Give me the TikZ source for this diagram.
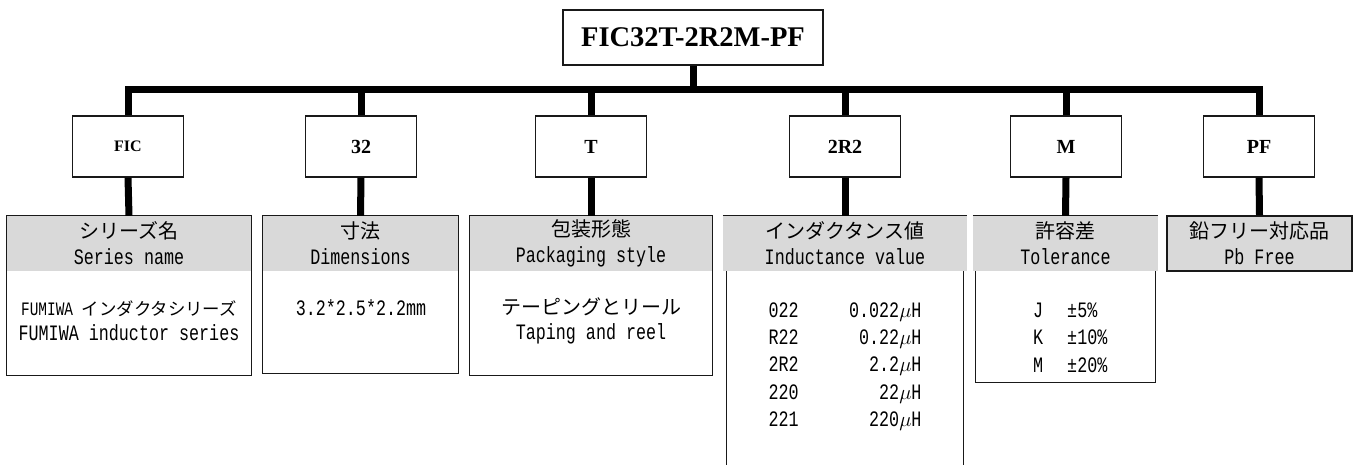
\documentclass[tikz,border=0pt]{standalone}
\usepackage{fontspec}
\setmainfont{Liberation Serif}
\newfontfamily\jpfont{Noto Sans CJK JP}
\newfontfamily\gothfont[FakeStretch=0.76]{Liberation Mono}
\usetikzlibrary{calc}
\definecolor{HeadClr}{RGB}{217,217,217}
\definecolor{LineClr}{RGB}{25,25,25}
\newcommand{\jp}[1]{{\jpfont #1}}
\newcommand{\uH}{$\mu$H}

\tikzset{
  codebox/.style={draw=LineClr,line width=1.3pt,fill=white,minimum width=111pt,
    minimum height=61pt,inner sep=0pt,font=\bfseries\fontsize{20}{24}\selectfont},
  headbox/.style={fill=HeadClr,minimum height=55pt,inner sep=0pt,align=center,
    font=\gothfont\fontsize{22}{26}\selectfont},
  bodybox/.style={minimum width=#1,inner sep=0pt,anchor=north},
  textline/.style={inner sep=0pt,align=center,font=\gothfont\fontsize{22}{25}\selectfont},
  busline/.style={line width=7pt,line join=miter},
  edge/.style={draw=LineClr,line width=1.3pt}
}

\begin{document}
\begin{tikzpicture}[x=1pt,y=-1pt]
\useasboundingbox (0,0) rectangle (1358,465);

% part number and its codes
\node[draw=LineClr,line width=1.3pt,minimum width=260pt,minimum height=55pt,inner sep=0pt,
  font=\bfseries\fontsize{28.5}{34}\selectfont] (pn) at (693,37.5) {FIC32T-2R2M-PF};
\coordinate (busmid) at (693,90);

\node[codebox,font=\bfseries\fontsize{16}{18}\selectfont] (fic) at (128,146.5) {FIC};
\node[codebox] (size) at (361,146.5) {32};
\node[codebox] (pack) at (591,146.5) {T};
\node[codebox] (ind)  at (845,146.5) {2R2};
\node[codebox] (tol)  at (1066,146.5) {M};
\node[codebox] (pbf)  at (1259,146.5) {PF};

% headers
\node[headbox,minimum width=244pt] (fich) at (129,243.5) {\jp{\fontsize{20}{26}\selectfont シリーズ名}\\Series name};
\node[headbox,minimum width=195pt] (sizeh) at (360.5,243.5) {\jp{\fontsize{20}{26}\selectfont 寸法}\\Dimensions};
\node[headbox,minimum width=242pt] (packh) at (591,243.5) {\jp{\fontsize{20}{26}\selectfont 包装形態}\\Packaging style};
\node[headbox,minimum width=244pt] (indh) at (845,243.5) {\jp{\fontsize{20}{26}\selectfont インダクタンス値}\\Inductance value};
\node[headbox,minimum width=185pt] (tolh) at (1065.5,243.5) {\jp{\fontsize{20}{26}\selectfont 許容差}\\Tolerance};
\node[headbox,draw=LineClr,line width=1.3pt,minimum width=185pt] (pbfh) at (1259.5,243.5) {\jp{\fontsize{20}{26}\selectfont 鉛フリー対応品}\\Pb Free};

% bodies
\node[bodybox=244pt,minimum height=104pt] (ficb) at (fich.south) {};
\node[bodybox=195pt,minimum height=102pt] (sizeb) at (sizeh.south) {};
\node[bodybox=242pt,minimum height=104pt] (packb) at (packh.south) {};
\node[bodybox=236pt,minimum height=194pt] (indb) at (indh.south) {};
\node[bodybox=179pt,minimum height=111pt] (tolb) at (tolh.south) {};

\draw[edge] (fich.north west) rectangle (ficb.south east);
\draw[edge] (sizeh.north west) rectangle (sizeb.south east);
\draw[edge] (packh.north west) rectangle (packb.south east);
\draw[edge] (indh.north west) -- (indh.north east);
\draw[edge] (indb.north west) -- (indb.south west);
\draw[edge] (indb.north east) -- (indb.south east);
\draw[edge] (tolh.north west) -- (tolh.north east);
\draw[edge] (tolb.north west) |- (tolb.south east) -- (tolb.north east);

% body texts
\node[textline] (ficl) at (129,320.5) {{\fontsize{19}{25}\selectfont FUMIWA \jp{\fontsize{17.4}{25}\selectfont インダクタシリーズ}}\\FUMIWA inductor series};
\node[textline] (sizel) at (361,308) {3.2*2.5*2.2mm};
\node[textline] (packl) at (591,320.5) {\jp{\fontsize{20}{25}\selectfont テーピングとリール}\\Taping and reel};
\node[textline,font=\gothfont\fontsize{22}{27.3}\selectfont] (indl) at (845,366.5) {%
  \begin{tabular*}{153pt}{@{}l@{\extracolsep{\fill}}r@{}}
  022 & 0.022\uH\\
  R22 & 0.22\uH\\
  2R2 & 2.2\uH\\
  220 & 22\uH\\
  221 & 220\uH
  \end{tabular*}};
\node[textline,anchor=west,font=\gothfont\fontsize{22}{27.3}\selectfont] (toll) at (1033,339.5) {%
  \begin{tabular}{@{}l@{\hspace{24pt}}l@{}}
  J & ±5\%\\
  K & ±10\%\\
  M & ±20\%
  \end{tabular}};

% connectors
\draw[busline] (pn.south) -- (busmid);
\draw[busline] (fic.north) -- (fic.north |- busmid) -- (pbf.north |- busmid) -- (pbf.north);
\foreach \c in {size,pack,ind,tol}
  \draw[busline] (\c.north) -- (\c.north |- busmid);
\foreach \c in {fic,size,pack,ind,tol,pbf}
  \draw[busline] (\c.south) -- (\c h.north);

\end{tikzpicture}
\end{document}
